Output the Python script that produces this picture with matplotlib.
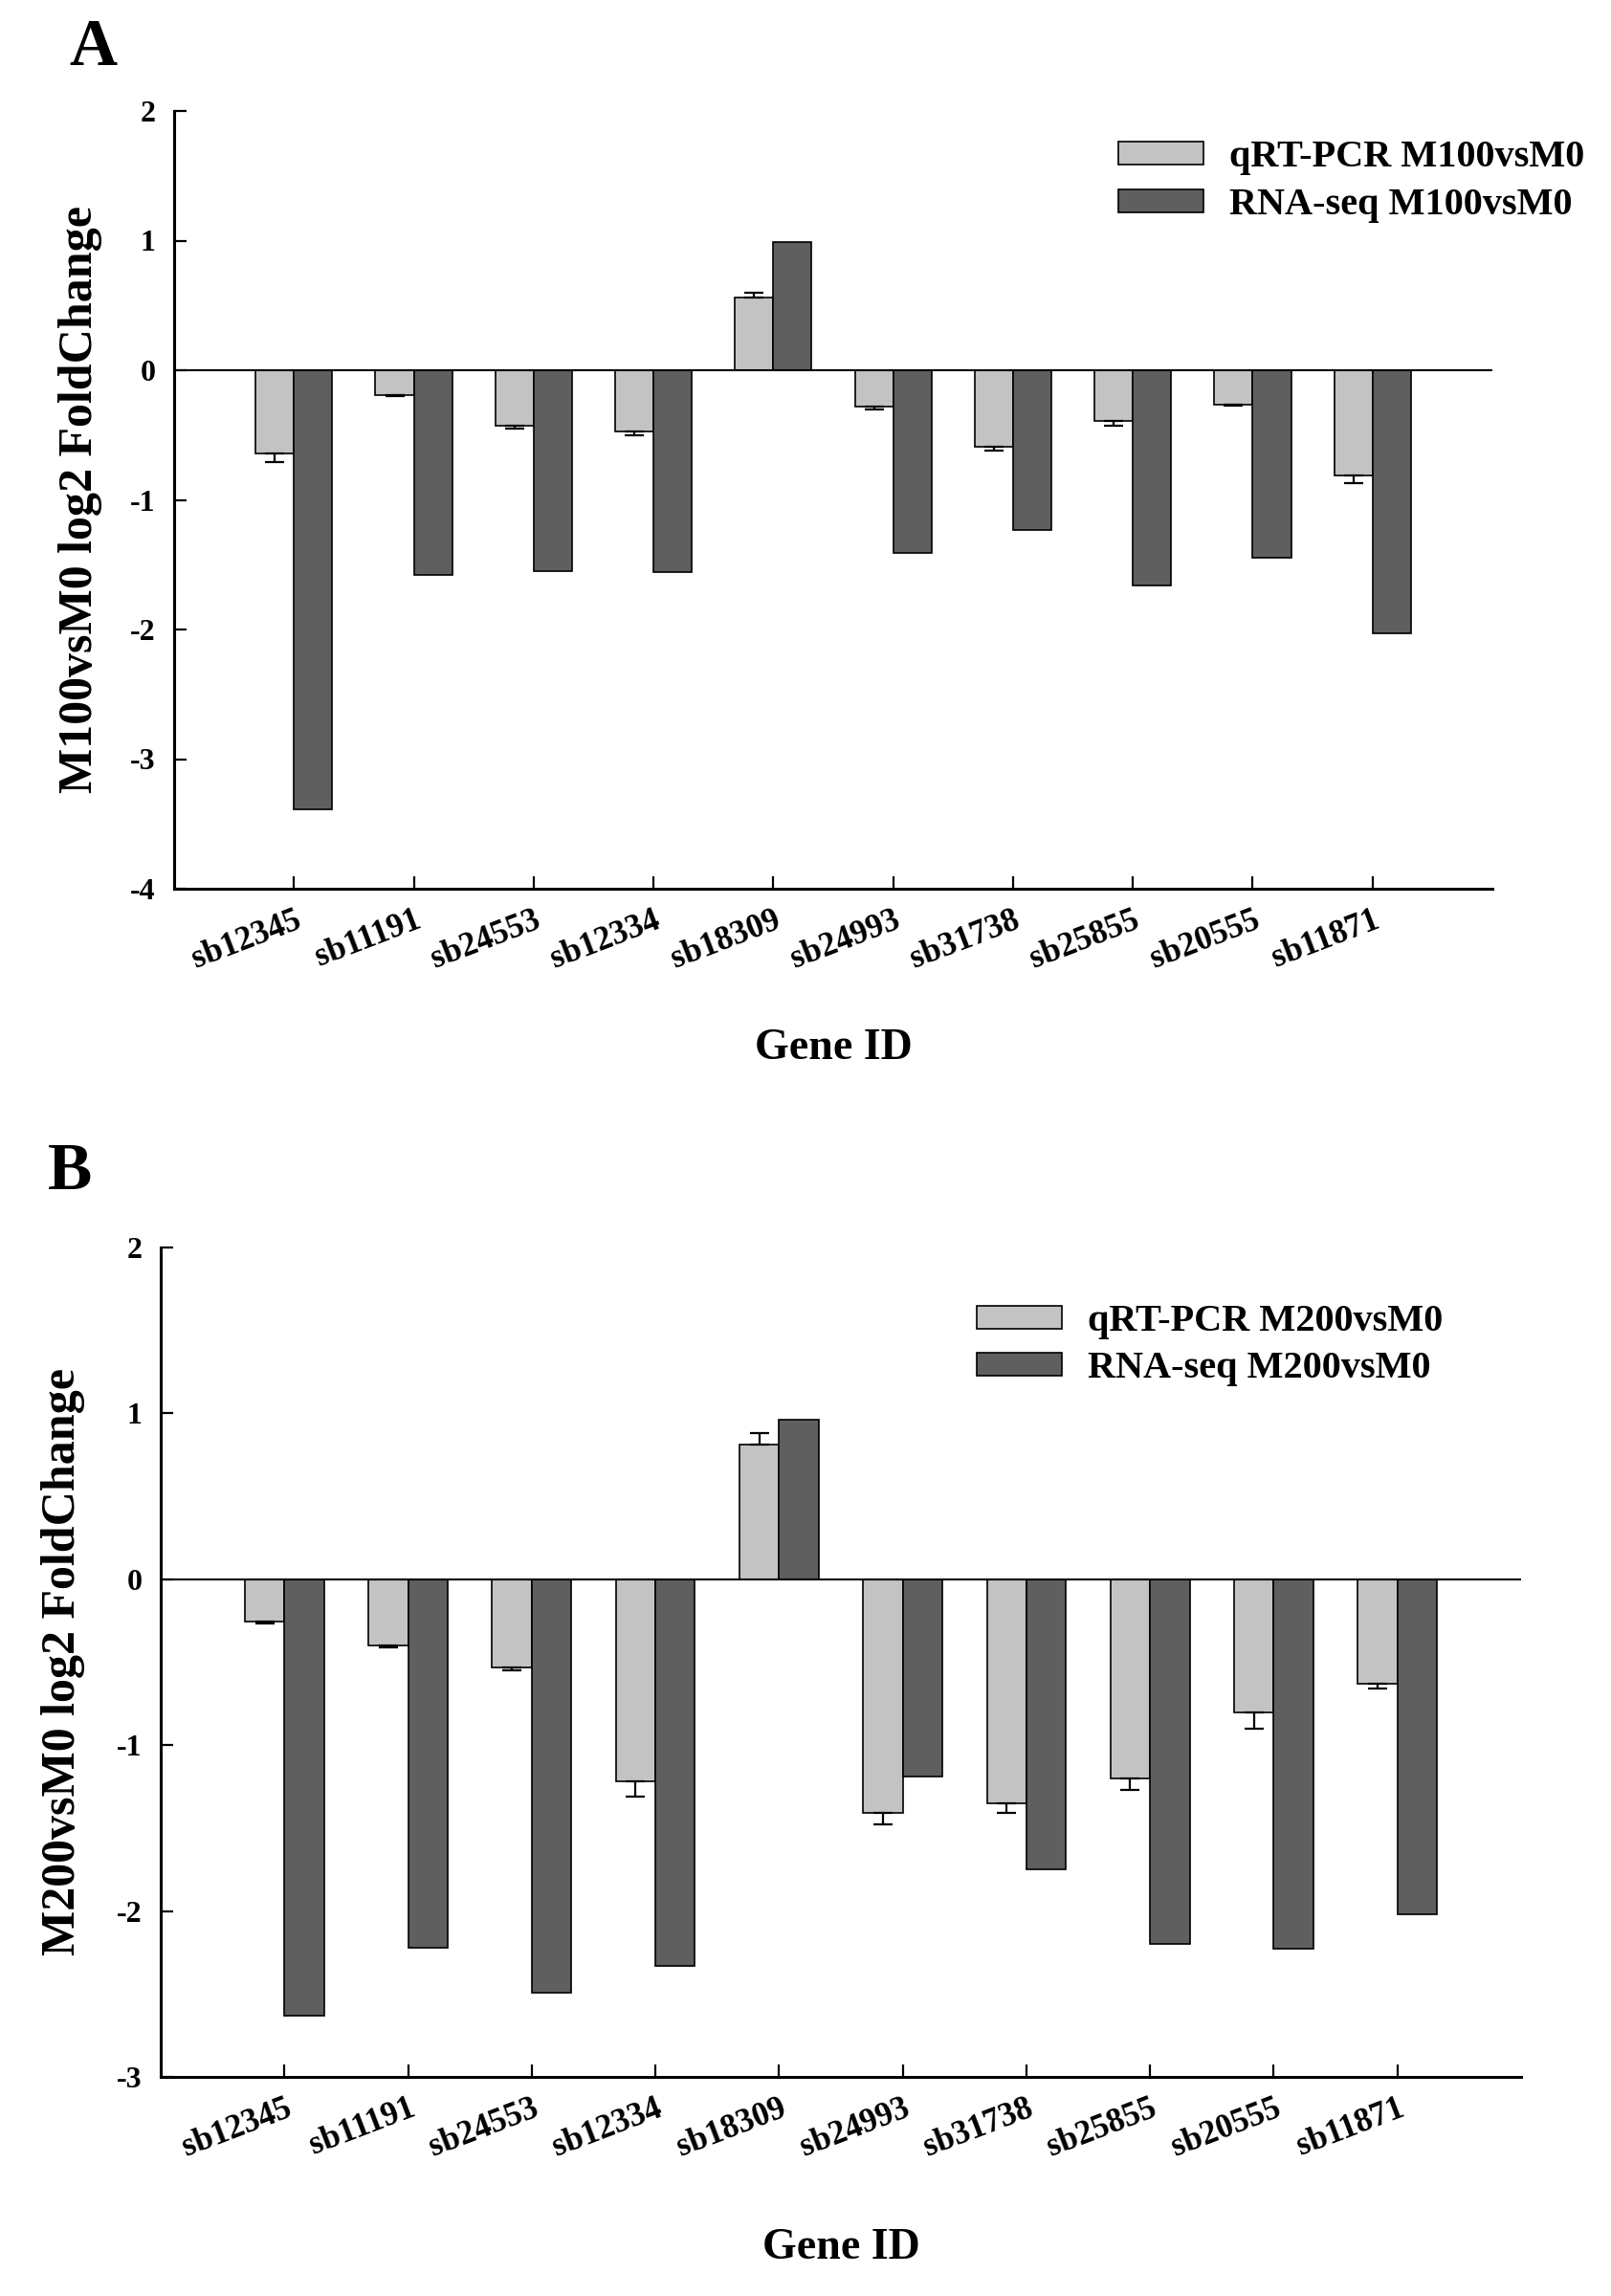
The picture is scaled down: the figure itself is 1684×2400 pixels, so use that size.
import numpy as np
import matplotlib
matplotlib.use("Agg")
import matplotlib.pyplot as plt
from matplotlib.patches import Patch

plt.rcParams['font.family'] = ['Liberation Serif', 'DejaVu Serif']
plt.rcParams['font.weight'] = 'bold'

# DATA
genes = ['sb12345', 'sb11191', 'sb24553', 'sb12334', 'sb18309',
         'sb24993', 'sb31738', 'sb25855', 'sb20555', 'sb11871']

qpcr_m100 = [-0.64, -0.19, -0.43, -0.47, 0.56, -0.28, -0.59, -0.39, -0.265, -0.81]
qpcr_m100_err = [0.07, 0.01, 0.02, 0.03, 0.04, 0.02, 0.03, 0.035, 0.01, 0.06]
rnaseq_m100 = [-3.39, -1.58, -1.55, -1.56, 0.99, -1.41, -1.23, -1.66, -1.45, -2.03]

qpcr_m200 = [-0.255, -0.40, -0.53, -1.22, 0.81, -1.41, -1.35, -1.20, -0.80, -0.63]
qpcr_m200_err = [0.01, 0.01, 0.02, 0.09, 0.07, 0.07, 0.06, 0.07, 0.10, 0.03]
rnaseq_m200 = [-2.63, -2.22, -2.49, -2.33, 0.96, -1.19, -1.75, -2.20, -2.23, -2.02]

light = '#c3c3c3'
dark = '#5f5f5f'
W, H = 1684, 2400


def px(x, y):
    return x / W, 1 - y / H


def panel(ax, qpcr, err, rna, ylim, qlabel, rlabel, leg_xy, leg_space):
    x = np.arange(len(genes))
    bw = 0.32
    q = np.array(qpcr)
    e = np.array(err)
    lower = np.where(q < 0, e, 0)
    upper = np.where(q >= 0, e, 0)
    ax.bar(x - bw / 2, q, bw, color=light, edgecolor='black', linewidth=1.2, zorder=2)
    ax.errorbar(x - bw / 2, q, yerr=[lower, upper], fmt='none', ecolor='black',
                elinewidth=1.6, capsize=7, capthick=1.6, zorder=3)
    ax.bar(x + bw / 2, rna, bw, color=dark, edgecolor='black', linewidth=1.2, zorder=2)
    ax.axhline(0, color='black', linewidth=1.5, zorder=4)

    ax.set_xlim(-1, 10)
    ax.set_ylim(*ylim)
    ax.set_yticks(np.arange(ylim[0], ylim[1] + 1, 1))
    ax.set_yticklabels([str(v) for v in range(ylim[0], ylim[1] + 1)], fontsize=23, fontweight='bold')
    ax.set_xticks(x)
    ax.set_xticklabels(genes, fontsize=25, fontweight='bold', rotation=21,
                       ha='right', va='top', rotation_mode='anchor')
    ax.tick_params(axis='both', direction='in', length=9.5, width=1.6)
    ax.tick_params(axis='y', pad=14)
    ax.tick_params(axis='x', pad=12)
    for s in ['top', 'right']:
        ax.spines[s].set_visible(False)
    for s in ['left', 'bottom']:
        ax.spines[s].set_linewidth(2.2)

    handles = [Patch(facecolor=light, edgecolor='black', linewidth=1.2),
               Patch(facecolor=dark, edgecolor='black', linewidth=1.2)]
    ax.legend(handles, [qlabel, rlabel], loc='upper left',
              bbox_to_anchor=px(*leg_xy), bbox_transform=ax.figure.transFigure,
              frameon=False, fontsize=29, borderpad=0, borderaxespad=0,
              handlelength=2.2, handleheight=0.55, handletextpad=0.68,
              labelspacing=leg_space)


fig = plt.figure(figsize=(W / 100, H / 100), dpi=100)

axA = fig.add_axes([182 / W, 1 - 929 / H, (1560 - 182) / W, (929 - 116) / H])
panel(axA, qpcr_m100, qpcr_m100_err, rnaseq_m100, (-4, 2),
      'qRT-PCR M100vsM0', 'RNA-seq M100vsM0', (1169, 146), 0.33)

axB = fig.add_axes([168 / W, 1 - 2171 / H, (1590 - 168) / W, (2171 - 1304) / H])
panel(axB, qpcr_m200, qpcr_m200_err, rnaseq_m200, (-3, 2),
      'qRT-PCR M200vsM0', 'RNA-seq M200vsM0', (1021, 1363), 0.3)

fig.text(*px(72, 68), 'A', fontsize=50, fontweight='bold', ha='left', va='baseline')
fig.text(*px(50, 1243), 'B', fontsize=50, fontweight='bold', ha='left', va='baseline')

fig.text(*px(84, 522), 'M100vsM0 log2 FoldChange', fontsize=36, fontweight='bold',
         rotation=90, ha='center', va='center')
fig.text(*px(66, 1737), 'M200vsM0 log2 FoldChange', fontsize=36, fontweight='bold',
         rotation=90, ha='center', va='center')

fig.text(*px(871, 1107), 'Gene ID', fontsize=33, fontweight='bold', ha='center', va='baseline')
fig.text(*px(879, 2361), 'Gene ID', fontsize=33, fontweight='bold', ha='center', va='baseline')

fig.savefig('out.png', dpi=100, facecolor='white')
